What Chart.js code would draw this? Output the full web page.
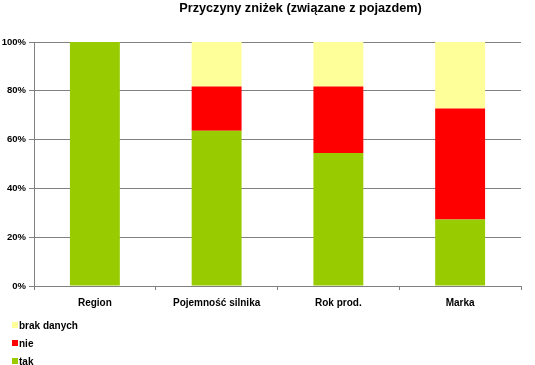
<!DOCTYPE html>
<html>
<head>
<meta charset="utf-8">
<script src="https://cdn.jsdelivr.net/npm/chart.js@4/dist/chart.umd.min.js"></script>
<style>
  html, body { margin: 0; padding: 0; background: #fff; }
  #wrap { position: relative; width: 535px; height: 365px; overflow: hidden; }
  #chart { display: block; }
  #legend { position: absolute; left: 12px; top: 316px; font: bold 10px "Liberation Sans", Arial, sans-serif; color: #000; }
  .item { height: 18px; display: flex; align-items: center; }
  .box { width: 6px; height: 6px; margin-right: 1px; }
</style>
</head>
<body>
<div id="wrap">
  <canvas id="chart" width="535" height="365"></canvas>
  <div id="legend"></div>
</div>
<script>
// Data
const categories = ["Region", "Pojemność silnika", "Rok prod.", "Marka"];
const tak = [100, 63.6, 54.5, 27.3];
const nie = [0, 18.2, 27.3, 45.5];
const brakDanych = [0, 18.2, 18.2, 27.2];
const yTicks = [0, 20, 40, 60, 80, 100];

const font = { family: "'Liberation Sans', Arial, sans-serif", size: 10, weight: "bold" };
const gridColor = "#808080";

const datasets = [
  { label: "tak", data: tak, backgroundColor: "#99CC00" },
  { label: "nie", data: nie, backgroundColor: "#FF0000" },
  { label: "brak danych", data: brakDanych, backgroundColor: "#FFFF99" }
];

// title in the original sits a bit right of centre
const shiftTitle = {
  id: "shiftTitle",
  afterLayout(chart) {
    if (chart.titleBlock) chart.titleBlock.left += 80;
  }
};

new Chart(document.getElementById("chart"), {
  type: "bar",
  data: {
    labels: categories,
    datasets: datasets.map(d => ({ ...d, borderWidth: 0, categoryPercentage: 1, barPercentage: 0.41 }))
  },
  options: {
    responsive: false,
    animation: false,
    layout: { padding: { left: 0, right: 14, top: 0, bottom: 0 } },
    plugins: {
      legend: { display: false },
      tooltip: { enabled: false },
      title: {
        display: true,
        text: "Przyczyny zniżek (związane z pojazdem)",
        color: "#000",
        font: { family: font.family, size: 12.7, weight: "bold" },
        padding: { top: 0.5, bottom: 26.3 }
      }
    },
    scales: {
      x: {
        stacked: true,
        grid: { drawOnChartArea: false, color: gridColor, tickLength: 4, offset: true },
        border: { color: gridColor },
        ticks: { color: "#000", font: font, padding: 7, maxRotation: 0 },
        afterFit: s => { s.height = 79; }
      },
      y: {
        stacked: true,
        min: 0,
        max: 100,
        afterBuildTicks: s => { s.ticks = yTicks.map(v => ({ value: v })); },
        grid: { color: gridColor, tickLength: 5 },
        border: { color: gridColor },
        ticks: { color: "#000", font: { ...font, size: 9.5 }, padding: 3, callback: v => v + "%" },
        afterFit: s => { s.width = 34; }
      }
    }
  },
  plugins: [shiftTitle]
});

// Legend, vertical list bottom-left (top series first)
const legend = document.getElementById("legend");
datasets.slice().reverse().forEach(d => {
  const row = document.createElement("div");
  row.className = "item";
  row.innerHTML = `<span class="box" style="background:${d.backgroundColor}"></span>${d.label}`;
  legend.appendChild(row);
});
</script>
</body>
</html>
